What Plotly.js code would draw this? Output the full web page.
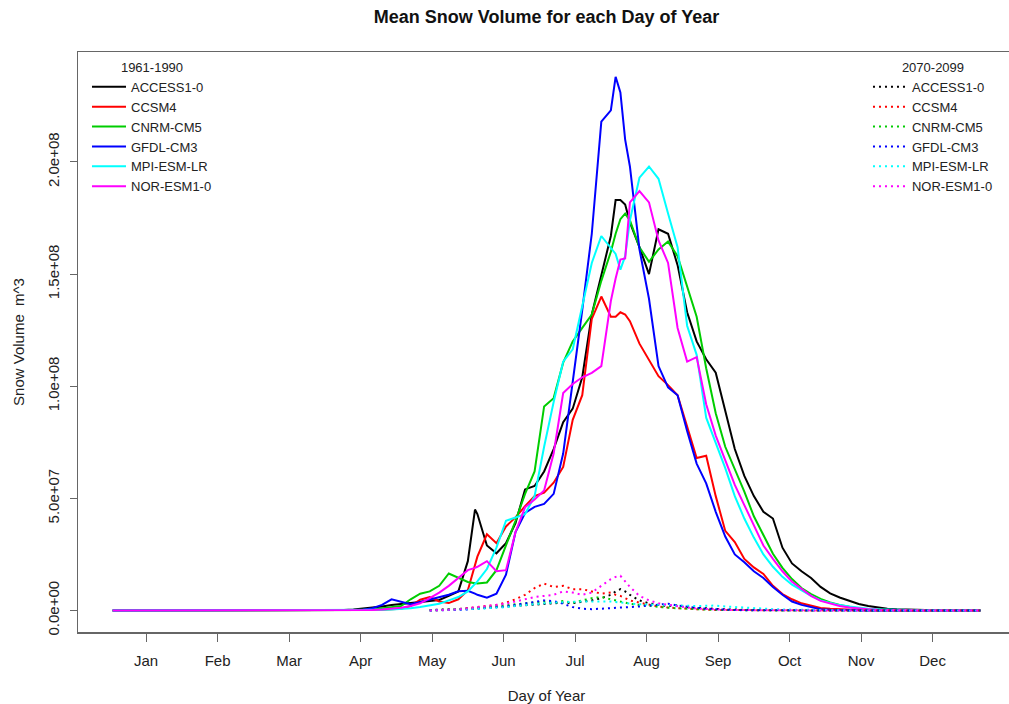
<!DOCTYPE html>
<html>
<head>
<meta charset="utf-8">
<script src="https://cdn.plot.ly/plotly-3.0.1.min.js"></script>
<style>
html,body{margin:0;padding:0;overflow:hidden;background:#ffffff;}
#chart{width:1016px;height:704px;}
</style>
</head>
<body>
<div id="chart"></div>
<script>
const days = [1, 90, 94, 98, 102, 106, 110, 114, 118, 122, 126, 130, 134, 138, 142, 146, 150, 153,
  154, 158, 162, 166, 170, 174, 178, 182, 186, 190, 194, 198, 202, 206, 210, 212, 214, 216,
  218, 222, 226, 230, 234, 238, 242, 246, 250, 254, 258, 262, 266, 270, 274, 278, 282, 286,
  290, 294, 298, 302, 306, 310, 314, 318, 322, 326, 330, 340, 350, 365];

// x ticks (day of year) and labels
const monthTickDays = [15, 45, 75, 105, 135, 165, 195, 225, 255, 285, 315, 345];
const monthLabels = ['Jan', 'Feb', 'Mar', 'Apr', 'May', 'Jun', 'Jul', 'Aug', 'Sep', 'Oct', 'Nov', 'Dec'];

// y ticks, values in millions of m^3
const yTickVals = [0, 50, 100, 150, 200];
const yTickText = ['0.0e+00', '5.0e+07', '1.0e+08', '1.5e+08', '2.0e+08'];

const models = ['ACCESS1-0', 'CCSM4', 'CNRM-CM5', 'GFDL-CM3', 'MPI-ESM-LR', 'NOR-ESM1-0'];

// 1961-1990 mean snow volume (millions m^3)
const hist_ACCESS = [0, 0, 0, 0.2, 0.4, 0.8, 1.2, 1.8, 2.5, 3, 3.5, 4, 4.3, 4.7, 6.5, 8.5, 22, 45,
  43, 29, 25.5, 30, 39, 54, 55.5, 62, 72, 84, 90, 104, 132, 149, 167, 183, 183, 181,
  173, 162, 150, 170, 168, 154, 133, 120, 112, 106, 89, 72, 60, 51, 44, 41, 28, 21,
  17.5, 14.5, 10.5, 7.6, 5.8, 4.2, 2.9, 2, 1.3, 0.8, 0.5, 0.15, 0.05, 0];
const hist_CCSM4 = [0, 0, 0, 0, 0, 0.1, 0.2, 0.3, 0.5, 0.8, 2, 4.8, 6, 4, 3.3, 5, 9, 20,
  24, 34, 30, 37.5, 41.5, 46.5, 51, 52.5, 57, 64, 85, 96, 130, 140, 131, 131, 133, 132,
  129, 119, 112, 104.5, 100.5, 96, 82, 68, 69, 51, 35.5, 30.5, 23, 19.2, 16.3, 11, 7.3, 5,
  3.2, 2, 1.1, 0.8, 0.5, 0.3, 0.2, 0.15, 0.1, 0.05, 0.03, 0, 0, 0];
const hist_CNRM = [0, 0, 0, 0, 0, 0.2, 0.5, 1, 1.5, 2, 5, 7.5, 8.5, 11, 16.5, 14.5, 12.7, 12.2,
  12, 12.5, 18, 29, 40, 52, 62, 91, 94.7, 110.5, 120, 126, 132, 147, 160, 168, 174.5, 177,
  174, 162, 155.5, 161, 164.5, 158, 145, 131, 108, 88, 73, 63, 53, 42, 34, 25.3, 19, 14,
  10, 7.3, 5.2, 3.6, 2.5, 1.6, 0.9, 0.6, 0.4, 0.25, 0.15, 0.05, 0, 0];
const hist_GFDL = [0, 0, 0, 0, 0.2, 0.3, 1, 2.5, 5, 4, 2.8, 3.8, 4.8, 5.7, 7, 8.6, 8.8, 7.5,
  7, 5.7, 7.5, 16, 35, 43.5, 46.2, 47.5, 52, 70, 101, 134, 168, 218, 223, 238, 231, 210,
  198, 161, 139, 109, 99.5, 96, 80, 65.5, 56.7, 44, 33, 25, 21.5, 17.5, 14.5, 10.5, 7, 4,
  2.5, 1.4, 0.6, 0.3, 0.15, 0.05, 0, 0, 0, 0, 0, 0, 0, 0];
const hist_MPI = [0, 0, 0, 0, 0, 0.1, 0.2, 0.3, 0.4, 0.6, 1, 1.6, 2.3, 3, 4.5, 6, 8.5, 12,
  13, 18.5, 28, 40, 41.5, 43, 51, 73, 93, 111, 116.5, 135, 155, 167, 161.5, 159, 152, 158,
  174, 193, 198, 192.5, 177, 162, 127, 114, 86, 75, 63.5, 51, 41, 32.5, 25, 19.5, 15, 11.5,
  9, 6.5, 4.5, 3.3, 2.4, 1.8, 1.2, 0.8, 0.5, 0.35, 0.25, 0.08, 0.02, 0];
const hist_NOR = [0, 0, 0, 0, 0, 0.1, 0.2, 0.4, 0.7, 1.2, 2, 3.2, 5.5, 8, 11, 14.5, 18, 19,
  19.5, 22, 17.5, 18, 35, 46, 49.5, 53.5, 70, 97, 101, 104, 106, 109, 138, 148, 156.5, 157,
  182, 187, 182, 165, 155, 126, 111, 113, 92, 78, 67, 56, 47, 38, 29, 23, 17.5, 12.8,
  9.5, 6.5, 4.3, 3, 2, 1.3, 0.8, 0.5, 0.3, 0.2, 0.1, 0.03, 0, 0];

// 2070-2099 mean snow volume (millions m^3); null = not drawn
const fut_ACCESS = [null, null, null, null, null, null, null, null, null, null, null, null, 0.2, 0.3, 0.5, 0.6, 0.8, 0.9,
  1, 1.2, 1.5, 1.8, 2, 2.3, 2.6, 3, 3.2, 3.5, 3.3, 3.8, 4.5, 5.5, 7, 8.5, 9.5, 8.5,
  7, 4.5, 3.2, 2.5, 2, 2.4, 1.6, 1.2, 0.9, 0.7, 0.5, 0.4, 0.3, 0.25, 0.2, 0.15, 0.12, 0.1,
  0.08, 0.06, 0.05, 0.04, 0.03, 0.02, 0.02, 0.01, 0.01, 0, 0, 0, 0, 0];
const fut_CCSM4 = [null, null, null, null, null, null, null, null, null, null, null, null, 0, 0, 0.3, 0.6, 1, 1.4,
  1.5, 2, 2.5, 3.5, 5, 7, 10, 12, 10.5, 11, 9.5, 9.5, 8.5, 7.5, 8, 7, 6.5, 5.5,
  4.5, 3.5, 2.5, 1.8, 1.3, 1, 0.7, 0.5, 0.35, 0.25, 0.2, 0.15, 0.1, 0.08, 0.06, 0.05, 0.04, 0.03,
  0.02, 0.02, 0.01, 0.01, 0, 0, 0, 0, 0, 0, 0, 0, 0, 0];
const fut_CNRM = [null, null, null, null, null, null, null, null, null, null, null, null, 0, 0.2, 0.4, 0.6, 0.8, 0.9,
  1, 1.5, 1.9, 2.3, 2.8, 3, 3.5, 4, 3.6, 4.2, 3.5, 4.5, 5.5, 6, 5, 4.6, 4.2, 3.6,
  3, 2.5, 2, 1.5, 1.2, 1, 0.7, 0.5, 0.4, 0.3, 0.2, 0.15, 0.1, 0.08, 0.06, 0.05, 0.04, 0.03,
  0.02, 0.02, 0.01, 0.01, 0, 0, 0, 0, 0, 0, 0, 0, 0, 0];
const fut_GFDL = [null, null, null, null, null, null, null, null, null, null, null, null, 0, 0, 0.1, 0.3, 0.5, 0.7,
  0.8, 1, 1.4, 1.8, 2.5, 3, 3.8, 4.5, 4.2, 3, 1.5, 0.8, 0.6, 0.8, 1, 1.1, 1.2, 1.4,
  1.5, 1.8, 2.2, 2.5, 3, 2.2, 1.6, 1.2, 0.8, 0.5, 0.3, 0.2, 0.15, 0.1, 0.08, 0.06, 0.05, 0.04,
  0.03, 0.02, 0.02, 0.01, 0.01, 0, 0, 0, 0, 0, 0, 0, 0, 0];
const fut_MPI = [null, null, null, null, null, null, null, null, null, null, null, null, 0, 0.1, 0.2, 0.3, 0.5, 0.7,
  0.8, 1, 1.2, 1.5, 2, 2.5, 2.8, 3.2, 3.5, 3.8, 3.9, 4, 4.1, 4.2, 4, 3.8, 3.5, 3.3,
  3.1, 2.8, 2.6, 2.5, 2.3, 2.2, 2.1, 2, 2.1, 2.2, 1.8, 1.5, 1.2, 1, 0.8, 0.6, 0.45, 0.35,
  0.25, 0.18, 0.12, 0.08, 0.05, 0.03, 0.02, 0.01, 0, 0, 0, 0, 0, 0];
const fut_NOR = [null, null, null, null, null, null, null, null, null, null, null, null, 0, 0.1, 0.2, 0.5, 1, 1.4,
  1.5, 2, 2.5, 3, 4, 5, 6, 6.5, 7, 8.5, 8, 7, 8, 11, 14, 15, 15.5, 13,
  10.5, 6.5, 4.5, 3.2, 2.5, 1.8, 1.3, 0.9, 0.6, 0.4, 0.3, 0.2, 0.15, 0.1, 0.08, 0.06, 0.05, 0.04,
  0.03, 0.02, 0.02, 0.01, 0.01, 0, 0, 0, 0, 0, 0, 0, 0, 0];

const histSeries = [hist_ACCESS, hist_CCSM4, hist_CNRM, hist_GFDL, hist_MPI, hist_NOR];
const futSeries = [fut_ACCESS, fut_CCSM4, fut_CNRM, fut_GFDL, fut_MPI, fut_NOR];

// styles
const lineColors = ['#000000', '#FF0000', '#00CD00', '#0000FF', '#00FFFF', '#FF00FF'];
const FONT = 'Liberation Sans, Arial, Helvetica, sans-serif';

const traces = [];
models.forEach((m, i) => {
  traces.push({type: 'scatter', mode: 'lines', x: days, y: histSeries[i], name: m,
    line: {color: lineColors[i], width: 2}, legend: 'legend', hoverinfo: 'skip'});
});
models.forEach((m, i) => {
  traces.push({type: 'scatter', mode: 'lines', x: days, y: futSeries[i], name: m,
    line: {color: lineColors[i], width: 2, dash: '2px,4px'}, connectgaps: false,
    legend: 'legend2', hoverinfo: 'skip'});
});

const layout = {
  width: 1016, height: 704,
  margin: {l: 78, r: 1, t: 52, b: 72, pad: 0},
  paper_bgcolor: '#ffffff', plot_bgcolor: '#ffffff',
  font: {family: FONT, color: '#222222', size: 15},
  showlegend: true,
  title: {text: '<b>Mean Snow Volume for each Day of Year</b>', font: {family: FONT, size: 18, color: '#111111'},
    x: 0.5, xref: 'paper', xanchor: 'center', y: 0.976, yref: 'container', yanchor: 'middle'},
  xaxis: {range: [-13.56, 379.56], tickmode: 'array', tickvals: monthTickDays, ticktext: monthLabels,
    ticks: 'outside', ticklen: 8, tickwidth: 1, tickcolor: '#666666', ticklabelstandoff: 6,
    showline: true, mirror: true, linecolor: '#666666', linewidth: 1.5,
    showgrid: false, zeroline: false, tickfont: {size: 15, color: '#222222'},
    title: {text: 'Day of Year', font: {size: 15, color: '#222222'}, standoff: 23}},
  yaxis: {range: [-9.59, 249.05], tickmode: 'array', tickvals: yTickVals, ticktext: yTickText,
    tickangle: -90, ticks: 'outside', ticklen: 7, tickwidth: 1, tickcolor: '#666666', ticklabelstandoff: 5,
    showline: true, mirror: true, linecolor: '#666666', linewidth: 1.5,
    showgrid: false, zeroline: false, tickfont: {size: 15, color: '#222222'},
    title: {text: 'Snow Volume\u00a0 m^3', font: {size: 15, color: '#222222'}, standoff: 16}},
  legend: {x: 0.0096, xref: 'paper', xanchor: 'left', y: 0.995, yref: 'paper', yanchor: 'top',
    bgcolor: 'rgba(0,0,0,0)', borderwidth: 0, font: {size: 13, color: '#222222'},
    itemwidth: 34, tracegroupgap: 0,
    title: {text: '1961-1990', side: 'top center', font: {size: 13, color: '#222222'}}},
  legend2: {x: 0.8431, xref: 'paper', xanchor: 'left', y: 0.995, yref: 'paper', yanchor: 'top',
    bgcolor: 'rgba(0,0,0,0)', borderwidth: 0, font: {size: 13, color: '#222222'},
    itemwidth: 34, tracegroupgap: 0,
    title: {text: '2070-2099', side: 'top center', font: {size: 13, color: '#222222'}}}
};

Plotly.newPlot('chart', traces, layout, {displayModeBar: false, staticPlot: true});
</script>
</body>
</html>
